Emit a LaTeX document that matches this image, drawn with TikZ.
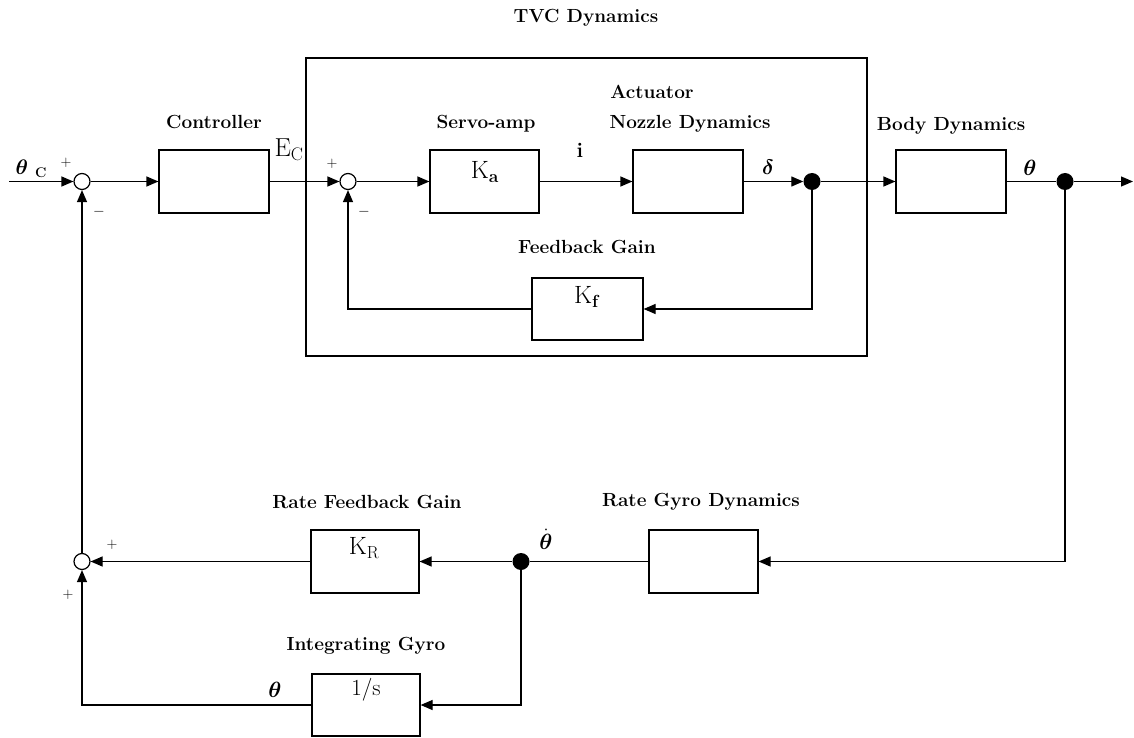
\RequirePackage{fix-cm}
\documentclass[tikz,border=0pt]{standalone}
\usepackage{amsmath}
\usetikzlibrary{arrows.meta}
\begin{document}
\begin{tikzpicture}[x=1pt,y=-1pt,
  blk/.style={draw, line width=1.2pt, minimum width=110pt, minimum height=63pt, inner sep=0pt},
  sumc/.style={draw, circle, line width=1.2pt, minimum size=16pt, inner sep=0pt},
  dotn/.style={circle, fill, minimum size=17pt, inner sep=0pt},
  lbl/.style={font=\fontsize{19}{21}\selectfont\bfseries, inner sep=0pt},
  sym/.style={font=\fontsize{25}{27}\selectfont, inner sep=0pt},
  sgn/.style={font=\fontsize{15}{16}\selectfont, inner sep=0pt},
  conn/.style={line width=1.2pt},
  arr/.style={conn, -{Triangle[length=12pt,width=10pt]}}]
\useasboundingbox (0,0) rectangle (1134,738);

% enclosing TVC box
\draw[line width=1.4pt] (306,58) rectangle (867,356);
\node[lbl] (title) at (586,18) {TVC Dynamics};

% top row
\coordinate (in) at (9,181.5);
\node[sumc] (sum1) at (82,181.5) {};
\node[blk] (ctrl) at (214,181.5) {};
\node[sumc] (sum2) at (348,181.5) {};
\node[blk, minimum width=109pt] (servo) at (484.5,181.5) {};
\node[blk] (noz) at (688,181.5) {};
\node[dotn] (dot1) at (812,181.5) {};
\node[blk] (body) at (951,181.5) {};
\node[dotn] (dot2) at (1065,181.5) {};
\coordinate (out) at (1133,181.5);

% inner feedback
\node[blk, minimum width=111pt, minimum height=62pt] (kf) at (587.5,309) {};

% bottom rows
\node[sumc] (sum3) at (82,561.5) {};
\node[blk, minimum width=108pt] (kr) at (365,561.5) {};
\node[dotn] (dot3) at (521,561.5) {};
\node[blk, minimum width=109pt] (gyro) at (703.5,561.5) {};
\node[blk, minimum width=108pt, minimum height=62pt] (integ) at (366,705) {};

% texts in boxes
\node[sym] (ka) at (485,172) {K\textsubscript{\textbf{a}}};
\node[sym] (kft) at (587,297) {K\textsubscript{\textbf{f}}};
\node[sym] (krt) at (364,548) {K\textsubscript{R}};
\node[sym, font=\fontsize{23}{25}\selectfont] (ints) at (366,690) {1/s};

% labels
\node[lbl] (lctrl) at (214,122) {Controller};
\node[lbl] (lservo) at (486,124) {Servo-amp};
\node[lbl] (lact) at (652,92) {Actuator};
\node[lbl] (lnoz) at (690,124) {Nozzle Dynamics};
\node[lbl] (lfb) at (587,247) {Feedback Gain};
\node[lbl] (lbody) at (951,126) {Body Dynamics};
\node[lbl] (lrfg) at (367,502) {Rate Feedback Gain};
\node[lbl] (lrgd) at (701,502) {Rate Gyro Dynamics};
\node[lbl] (lig) at (366,646) {Integrating Gyro};

% signal symbols
\node[inner sep=0pt, font=\fontsize{21}{22}\selectfont] (thc) at (31,169) {$\boldsymbol{\theta}$\hspace{7pt}\raisebox{-3pt}{\textbf{\fontsize{14}{15}\selectfont C}}};
\node[inner sep=0pt] (ec) at (289,150) {\fontsize{26}{27}\selectfont E\textsubscript{C}};
\node[inner sep=0pt, font=\fontsize{21}{22}\selectfont\bfseries] (isig) at (580,150) {i};
\node[inner sep=0pt, font=\fontsize{21}{22}\selectfont] (dsig) at (768,167) {$\boldsymbol{\delta}$};
\node[inner sep=0pt, font=\fontsize{22}{23}\selectfont] (th1) at (1030,168) {$\boldsymbol{\theta}$};
\node[inner sep=0pt, font=\fontsize{22}{23}\selectfont] (thd) at (546,539) {$\dot{\boldsymbol{\theta}}$};
\node[inner sep=0pt, font=\fontsize{22}{23}\selectfont] (th2) at (275,690) {$\boldsymbol{\theta}$};

% signs
\node[sgn] (p1) at (66,163) {+};
\node[sgn] (m1) at (99,212) {$-$};
\node[sgn] (p2) at (332,164) {+};
\node[sgn] (m2) at (364,212) {$-$};
\node[sgn] (p3) at (112,545) {+};
\node[sgn] (p4) at (68,595) {+};

% connectors
\draw[arr] (in) -- (sum1);
\draw[arr] (sum1) -- (ctrl);
\draw[arr] (ctrl) -- (sum2);
\draw[arr] (sum2) -- (servo);
\draw[arr] (servo) -- (noz);
\draw[arr] (noz) -- (dot1);
\draw[arr] (dot1) -- (body);
\draw[conn] (body) -- (dot2);
\draw[arr] (dot2) -- (out);
\draw[arr] (dot1) |- (kf.east);
\draw[arr] (kf.west) -| (sum2);
\draw[arr] (dot2) |- (gyro.east);
\draw[conn] (gyro) -- (dot3);
\draw[arr] (dot3) -- (kr);
\draw[arr] (kr) -- (sum3);
\draw[arr] (dot3) |- (integ.east);
\draw[arr] (integ.west) -| (sum3);
\draw[arr] (sum3) -- (sum1);
\end{tikzpicture}
\end{document}
